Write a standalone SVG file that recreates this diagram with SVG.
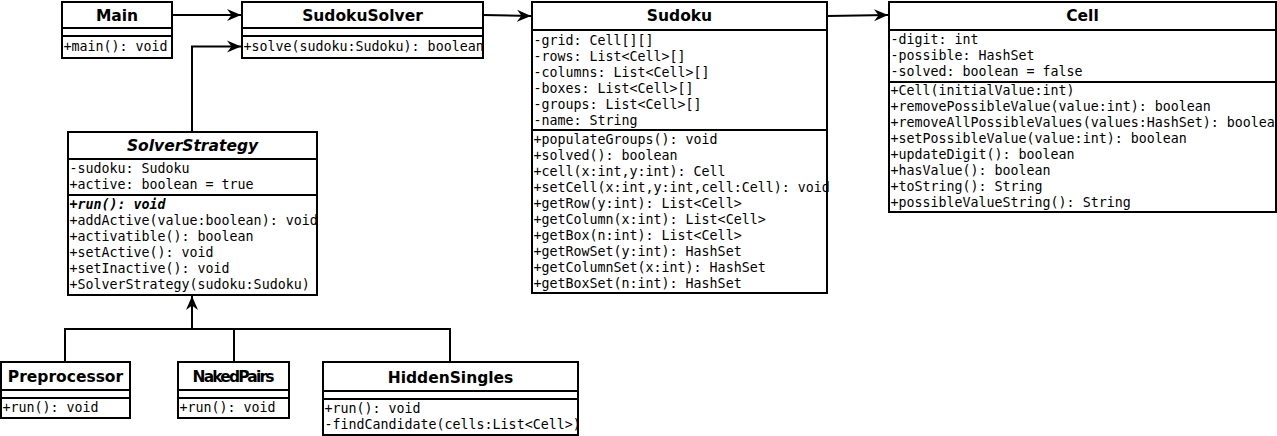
<svg xmlns="http://www.w3.org/2000/svg" width="1277" height="436" viewBox="0 0 1277 436">
<style>
.box{fill:#fff;stroke:#000;stroke-width:2}
.sep{stroke:#000;stroke-width:2;fill:none}
.title{font-family:"DejaVu Sans","Liberation Sans",sans-serif;font-weight:bold;font-size:15.5px;text-anchor:middle;fill:#000}
.abs{font-style:italic}
.mem{font-family:"DejaVu Sans Mono","Liberation Mono",monospace;font-size:13.3px;fill:#000}
.absm{font-style:italic;font-weight:bold}
.conn{fill:none;stroke:#000;stroke-width:2}
</style>
<defs>
<marker id="arr" markerUnits="userSpaceOnUse" markerWidth="15" markerHeight="13" refX="14" refY="6.5" orient="auto">
<path d="M0,0.5 L14,6.5 L0,12.5 L4.5,6.5 Z" fill="#000"/>
</marker>
</defs>
<rect width="1277" height="436" fill="#fff"/>

<g id="connectors">
<path class="conn" d="M172,15 L241,15" marker-end="url(#arr)"/>
<path class="conn" d="M192,131 L192,46.5 L241,46.5" marker-end="url(#arr)"/>
<path class="conn" d="M483,15 L531,16" marker-end="url(#arr)"/>
<path class="conn" d="M827,16 L888,15" marker-end="url(#arr)"/>
<path class="conn" d="M192,329 L192,296" marker-end="url(#arr)"/>
<path class="conn" d="M65,362 L65,329 L450,329 L450,362"/>
<path class="conn" d="M234,329 L234,362"/>
</g>

<g id="Main">
<rect class="box" x="62" y="2" width="110" height="56"/>
<path class="sep" d="M62,28 H172 M62,36 H172"/>
<text class="title" x="117" y="21">Main</text>
<text class="mem" x="63.5" y="51">+main(): void</text>
</g>

<g id="SudokuSolver">
<rect class="box" x="242" y="2" width="241" height="56"/>
<path class="sep" d="M242,28 H483 M242,36 H483"/>
<text class="title" x="362.5" y="21">SudokuSolver</text>
<text class="mem" x="243.5" y="51">+solve(sudoku:Sudoku): boolean</text>
</g>

<g id="Sudoku">
<rect class="box" x="532" y="2" width="295" height="291"/>
<path class="sep" d="M532,30 H827 M532,130 H827"/>
<text class="title" x="679.5" y="21">Sudoku</text>
<text class="mem" x="533.5" y="44.5">-grid: Cell[][]</text>
<text class="mem" x="533.5" y="60.5">-rows: List&lt;Cell&gt;[]</text>
<text class="mem" x="533.5" y="76.5">-columns: List&lt;Cell&gt;[]</text>
<text class="mem" x="533.5" y="92.5">-boxes: List&lt;Cell&gt;[]</text>
<text class="mem" x="533.5" y="108.5">-groups: List&lt;Cell&gt;[]</text>
<text class="mem" x="533.5" y="124.5">-name: String</text>
<text class="mem" x="533.5" y="143.5">+populateGroups(): void</text>
<text class="mem" x="533.5" y="159.5">+solved(): boolean</text>
<text class="mem" x="533.5" y="175.5">+cell(x:int,y:int): Cell</text>
<text class="mem" x="533.5" y="191.5">+setCell(x:int,y:int,cell:Cell): void</text>
<text class="mem" x="533.5" y="207.5">+getRow(y:int): List&lt;Cell&gt;</text>
<text class="mem" x="533.5" y="223.5">+getColumn(x:int): List&lt;Cell&gt;</text>
<text class="mem" x="533.5" y="239.5">+getBox(n:int): List&lt;Cell&gt;</text>
<text class="mem" x="533.5" y="255.5">+getRowSet(y:int): HashSet</text>
<text class="mem" x="533.5" y="271.5">+getColumnSet(x:int): HashSet</text>
<text class="mem" x="533.5" y="287.5">+getBoxSet(n:int): HashSet</text>
</g>

<g id="Cell">
<rect class="box" x="889" y="2" width="387" height="210"/>
<path class="sep" d="M889,30 H1276 M889,82 H1276"/>
<text class="title" x="1082.5" y="21">Cell</text>
<text class="mem" x="890.5" y="44">-digit: int</text>
<text class="mem" x="890.5" y="60">-possible: HashSet</text>
<text class="mem" x="890.5" y="76">-solved: boolean = false</text>
<text class="mem" x="890.5" y="95">+Cell(initialValue:int)</text>
<text class="mem" x="890.5" y="111">+removePossibleValue(value:int): boolean</text>
<text class="mem" x="890.5" y="127">+removeAllPossibleValues(values:HashSet): boolean</text>
<text class="mem" x="890.5" y="143">+setPossibleValue(value:int): boolean</text>
<text class="mem" x="890.5" y="159">+updateDigit(): boolean</text>
<text class="mem" x="890.5" y="175">+hasValue(): boolean</text>
<text class="mem" x="890.5" y="191">+toString(): String</text>
<text class="mem" x="890.5" y="207">+possibleValueString(): String</text>
</g>

<g id="SolverStrategy">
<rect class="box" x="68" y="132" width="249" height="163"/>
<path class="sep" d="M68,159 H317 M68,195 H317"/>
<text class="title abs" x="192.5" y="150.5">SolverStrategy</text>
<text class="mem" x="69.5" y="173">-sudoku: Sudoku</text>
<text class="mem" x="69.5" y="189">+active: boolean = true</text>
<text class="mem absm" x="69.5" y="208.5">+run(): void</text>
<text class="mem" x="69.5" y="224.5">+addActive(value:boolean): void</text>
<text class="mem" x="69.5" y="240.5">+activatible(): boolean</text>
<text class="mem" x="69.5" y="256.5">+setActive(): void</text>
<text class="mem" x="69.5" y="272.5">+setInactive(): void</text>
<text class="mem" x="69.5" y="288.5">+SolverStrategy(sudoku:Sudoku)</text>
</g>

<g id="Preprocessor">
<rect class="box" x="1" y="362" width="129" height="56"/>
<path class="sep" d="M1,390 H130 M1,398 H130"/>
<text class="title" x="65.5" y="382">Preprocessor</text>
<text class="mem" x="2.5" y="412">+run(): void</text>
</g>

<g id="NakedPairs">
<rect class="box" x="178" y="362" width="111" height="56"/>
<path class="sep" d="M178,390 H289 M178,398 H289"/>
<text class="title" x="233.5" y="382" textLength="82" lengthAdjust="spacing">NakedPairs</text>
<text class="mem" x="179.5" y="412">+run(): void</text>
</g>

<g id="HiddenSingles">
<rect class="box" x="323" y="362" width="255" height="73"/>
<path class="sep" d="M323,391 H578 M323,399 H578"/>
<text class="title" x="450.5" y="383">HiddenSingles</text>
<text class="mem" x="324.5" y="412.5">+run(): void</text>
<text class="mem" x="324.5" y="428.5">-findCandidate(cells:List&lt;Cell&gt;)</text>
</g>
</svg>
